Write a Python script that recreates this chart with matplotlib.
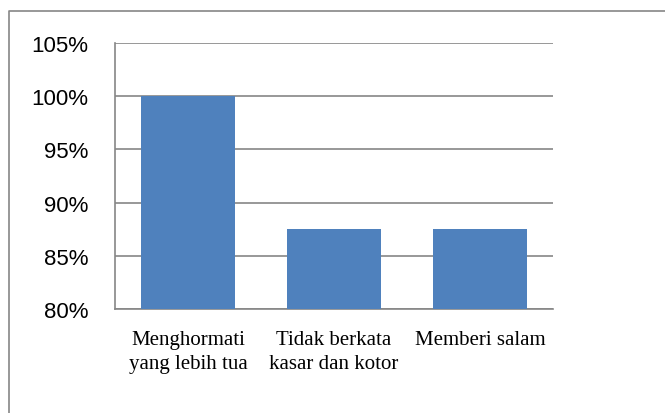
import matplotlib

matplotlib.use("Agg")
import matplotlib.pyplot as plt
from matplotlib.lines import Line2D
from matplotlib.ticker import PercentFormatter

categories = ["Menghormati\nyang lebih tua", "Tidak berkata\nkasar dan kotor", "Memberi salam"]
values = [100.0, 87.5, 87.5]
y_ticks = [80, 85, 90, 95, 100, 105]

fig = plt.figure(figsize=(6.65, 4.14), dpi=100)
# chart frame: only the left and top edges fall inside the picture
fig.lines.append(Line2D([0.0135, 0.0135, 1.0], [0.0, 0.971, 0.971],
                        transform=fig.transFigure, color="#868686", linewidth=1.2))

ax = fig.add_axes([0.1729, 0.2512, 0.6586, 0.6425])
x = range(len(categories))
ax.bar(x, values, width=0.64, color="#4F81BD", zorder=3)

ax.set_xlim(-0.5, len(categories) - 0.5)
ax.set_ylim(80, 105)
ax.set_yticks(y_ticks)
ax.yaxis.set_major_formatter(PercentFormatter(decimals=0))
ax.grid(axis="y", color="#868686", linewidth=1.2, zorder=0)

for side in ("top", "right"):
    ax.spines[side].set_visible(False)
for side in ("left", "bottom"):
    ax.spines[side].set_color("#868686")
    ax.spines[side].set_linewidth(1.2)

ax.tick_params(axis="y", length=0, pad=19, labelsize=16)
ax.tick_params(axis="x", length=0, pad=15)
for lbl in ax.get_yticklabels():
    lbl.set_fontfamily("Liberation Sans")

ax.set_xticks(list(x))
ax.set_xticklabels(categories, fontfamily="Liberation Serif", fontsize=15,
                   linespacing=1.35, va="top")

fig.savefig("out.png", dpi=100)
